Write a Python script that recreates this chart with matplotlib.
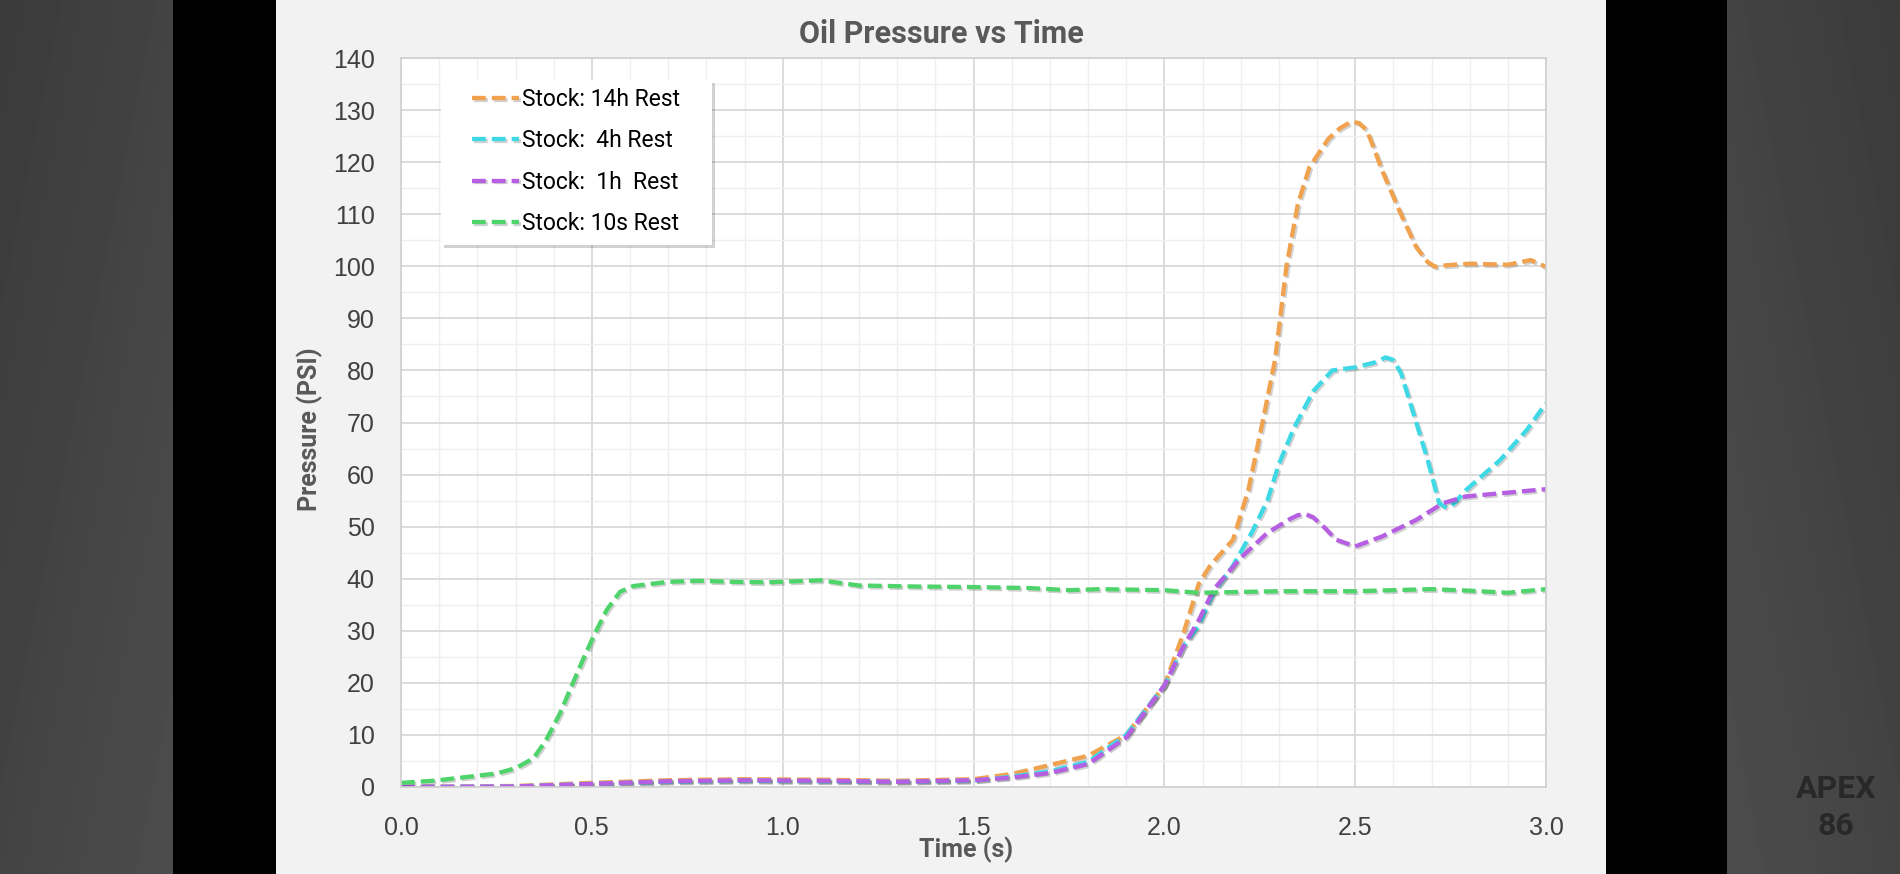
import numpy as np
import matplotlib
matplotlib.use("Agg")
from matplotlib import pyplot as plt
from matplotlib import patheffects as pe
from matplotlib.patches import Rectangle
from matplotlib.ticker import MultipleLocator, FormatStrFormatter

# --- data ---
t_14h = [0, 0.3, 0.5, 0.7, 0.9, 1.1, 1.3, 1.5, 1.6, 1.7, 1.8, 1.9, 2.0, 2.05,
         2.09, 2.12, 2.18, 2.22, 2.26, 2.29, 2.32, 2.35, 2.38, 2.43, 2.46, 2.49,
         2.51, 2.53, 2.55, 2.57, 2.62, 2.66, 2.69, 2.71, 2.74, 2.8, 2.9, 2.96, 3.0]
p_14h = [0, 0.2, 0.8, 1.3, 1.5, 1.4, 1.2, 1.5, 2.5, 4.2, 6.0, 10, 19.5, 29.5,
         39, 42.5, 47.5, 57, 71, 82, 100, 112, 119, 124.5, 126.5, 127.8,
         127.5, 126.2, 122.5, 118.5, 110, 103.7, 100.8, 99.9, 100.2, 100.5, 100.3, 101.2, 99.9]

t_4h = [0, 0.3, 0.5, 0.7, 0.9, 1.1, 1.3, 1.5, 1.6, 1.7, 1.8, 1.9, 2.0, 2.05,
        2.09, 2.13, 2.18, 2.23, 2.27, 2.30, 2.34, 2.39, 2.44, 2.5, 2.55,
        2.58, 2.60, 2.62, 2.65, 2.69, 2.72, 2.74, 2.76, 2.79, 2.88, 2.95, 3.0]
p_4h = [0, 0.1, 0.6, 1.0, 1.2, 1.1, 1.0, 1.2, 2.0, 3.0, 4.8, 10, 19.5, 27,
        31, 37.5, 42.5, 49, 55, 62, 69, 76, 80, 80.6, 81.5,
        82.5, 82.0, 79.5, 72.4, 62.8, 54.5, 53.6, 54.5, 57, 62.8, 68.6, 73.7]

t_1h = [0, 0.3, 0.5, 0.7, 0.9, 1.1, 1.3, 1.5, 1.6, 1.7, 1.8, 1.9, 2.0, 2.05,
        2.09, 2.13, 2.2, 2.27, 2.33, 2.35, 2.37, 2.39, 2.42, 2.45, 2.5, 2.57, 2.66,
        2.73, 2.79, 2.88, 3.0]
p_1h = [0, 0.1, 0.6, 1.1, 1.3, 1.2, 1.0, 1.3, 1.8, 2.7, 4.4, 9.5, 19.5, 27,
        32, 38, 44, 48.8, 51.5, 52.2, 52.4, 51.8, 49.8, 47.5, 46.2, 48.1, 51.3,
        54.5, 55.8, 56.4, 57.2]

t_10s = [0, 0.085, 0.17, 0.25, 0.3, 0.347, 0.38, 0.417, 0.45, 0.48, 0.508,
         0.539, 0.574, 0.609, 0.7, 0.78, 0.87, 0.96, 1.03, 1.1, 1.2, 1.35,
         1.5, 1.65, 1.75, 1.83, 2.0, 2.09, 2.3, 2.5, 2.6, 2.7, 2.8, 2.9, 3.0]
p_10s = [0.8, 1.2, 1.9, 2.6, 3.6, 5.5, 9.0, 14.2, 19.9, 25, 29.5,
         34, 37.5, 38.6, 39.4, 39.6, 39.4, 39.3, 39.5, 39.7, 38.7, 38.5,
         38.4, 38.2, 37.8, 38.0, 37.8, 37.3, 37.6, 37.6, 37.8, 38.0, 37.7, 37.3, 38.0]

series = [
    ("Stock: 14h Rest", t_14h, p_14h, "#f0a24e"),
    ("Stock:  4h Rest", t_4h, p_4h, "#3fd9e6"),
    ("Stock:  1h  Rest", t_1h, p_1h, "#b65fe3"),
    ("Stock: 10s Rest", t_10s, p_10s, "#4fd46c"),
]

W, H = 1900, 874
fig = plt.figure(figsize=(W / 100, H / 100), dpi=100)
fig.patch.set_facecolor("black")


def side_panel(x0, x1, flip):
  ax = fig.add_axes([x0 / W, 0, (x1 - x0) / W, 1])
  gx = np.linspace(0, 1, 50)
  gy = np.linspace(0, 1, 50)
  xx, yy = np.meshgrid(gx if not flip else gx[::-1], gy)
  ax.imshow(0.23 + 0.07 * (xx + yy) / 2, cmap="gray", vmin=0, vmax=1,
            aspect="auto", interpolation="bilinear")
  ax.set_axis_off()


side_panel(0, 173, False)
side_panel(1727, 1900, True)

# light chart panel
panel = fig.add_axes([276 / W, 0, 1330 / W, 1])
panel.set_facecolor("#f2f2f2")
panel.set_xticks([])
panel.set_yticks([])
for s in panel.spines.values():
  s.set_visible(False)

# main plot area
ax = fig.add_axes([401 / W, (H - 787) / H, 1145 / W, 729 / H])
ax.set_facecolor("white")

for label, t, p, c in series:
  ax.plot(t, p, color=c, lw=3.1, linestyle=(0, (3.2, 1.4)), label=label,
          solid_joinstyle="round", dash_joinstyle="round",
          path_effects=[pe.SimpleLineShadow(offset=(1.2, -1.2), alpha=0.18),
                        pe.Normal()])

ax.set_xlim(0, 3)
ax.set_ylim(0, 140)
ax.xaxis.set_major_locator(MultipleLocator(0.5))
ax.xaxis.set_minor_locator(MultipleLocator(0.1))
ax.yaxis.set_major_locator(MultipleLocator(10))
ax.yaxis.set_minor_locator(MultipleLocator(5))
ax.xaxis.set_major_formatter(FormatStrFormatter("%.1f"))
ax.grid(which="major", color="#d9d9d9", lw=1.3)
ax.grid(which="minor", color="#efefef", lw=1.0)
ax.set_axisbelow(True)
ax.tick_params(which="both", length=0)
ax.tick_params(axis="x", pad=21, labelsize=18, labelcolor="#404040")
ax.tick_params(axis="y", pad=19, labelsize=18, labelcolor="#404040")
for lab in ax.get_xticklabels() + ax.get_yticklabels():
  lab.set_family("Liberation Sans")
for s in ax.spines.values():
  s.set_color("#d0d0d0")
  s.set_linewidth(1.2)

ax.set_xlabel("Time (s)", fontsize=18, fontweight="bold", color="#595959",
              family="Roboto", va="center")
ax.xaxis.set_label_coords((966 - 401) / 1145, (H - 850 - 87) / 729)
ax.set_ylabel("Pressure (PSI)", fontsize=18, fontweight="bold", color="#595959",
              family="Roboto", va="center")
ax.yaxis.set_label_coords((310 - 401) / 1145, (H - 429 - 87) / 729)

fig.text(941 / W, (H - 34) / H, "Oil Pressure vs Time", ha="center", va="center",
         fontsize=22, fontweight="bold", color="#595959", family="Roboto")

# legend box with soft shadow, legend entries drawn inside it
box = Rectangle((40 / 1145, (787 - 245) / 729), 271 / 1145, 165 / 729,
                transform=ax.transAxes, facecolor="white", edgecolor="none",
                zorder=4,
                path_effects=[pe.SimplePatchShadow(offset=(2.5, -2.5), alpha=0.25),
                              pe.Normal()])
ax.add_patch(box)
leg = ax.legend(loc="upper left", bbox_to_anchor=(71 / 1145, (787 - 88) / 729),
                borderaxespad=0, borderpad=0, frameon=False,
                prop={"family": "Roboto", "size": 16.5},
                handlelength=2.05, handletextpad=0.12, labelspacing=0.8)
leg.set_zorder(5)

wm = dict(ha="center", va="center", fontsize=23, fontweight="bold",
          color="#282828", family="Roboto")
fig.text(1836 / W, (H - 789) / H, "APEX", **wm)
fig.text(1836 / W, (H - 826) / H, "86", **wm)

fig.savefig("out.png", dpi=100, facecolor=fig.get_facecolor())
